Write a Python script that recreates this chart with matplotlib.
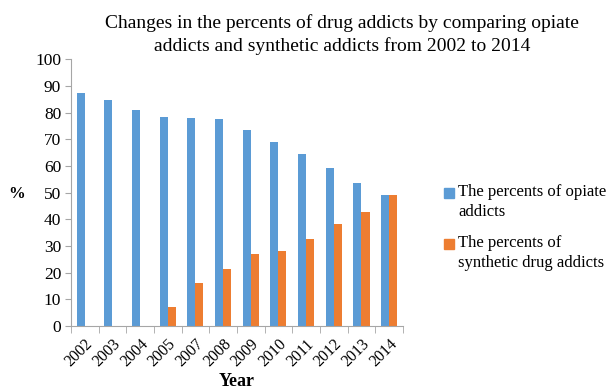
import matplotlib
matplotlib.use("Agg")
import matplotlib.pyplot as plt
import numpy as np
from matplotlib.patches import Patch, Rectangle
from matplotlib.legend_handler import HandlerPatch

years = ["2002", "2003", "2004", "2005", "2007", "2008", "2009", "2010", "2011", "2012", "2013", "2014"]
opiate = [87.5, 84.6, 81.0, 78.4, 78.0, 77.5, 73.3, 68.9, 64.4, 59.4, 53.8, 49.3]
synthetic = [0, 0, 0, 7.0, 16.0, 21.5, 27.1, 28.0, 32.7, 38.1, 42.6, 49.3]
labels = ["The percents of opiate\naddicts", "The percents of\nsynthetic drug addicts"]
title = "Changes in the percents of drug addicts by comparing opiate\naddicts and synthetic addicts from 2002 to 2014"

plt.rcParams['font.family'] = ['Liberation Serif', 'DejaVu Serif']
blue = "#5B9BD5"
orange = "#ED7D31"
gray = "#A6A6A6"

fig = plt.figure(figsize=(6.06, 3.92), dpi=100)
ax = fig.add_axes([0.117, 0.168, 0.548, 0.681])

x = np.arange(len(years))
w = 0.29
ax.bar(x - w / 2, opiate, width=w, color=blue)
ax.bar(x + w / 2, synthetic, width=w, color=orange)

ax.set_xlim(-0.5, len(years) - 0.5)
ax.set_ylim(0, 100)
ax.set_yticks(np.arange(0, 101, 10))
ax.tick_params(axis='y', labelsize=12.5, color=gray, length=4, direction='out', pad=3)
ax.set_xticks(x)
ax.set_xticklabels(years, rotation=45, ha='right', rotation_mode='anchor', fontsize=11.5)
ax.set_xticks(np.arange(-0.5, len(years), 1), minor=True)
ax.tick_params(axis='x', which='major', length=0, pad=7)
ax.tick_params(axis='x', which='minor', length=5, color=gray)

for s in ['top', 'right']:
    ax.spines[s].set_visible(False)
for s in ['left', 'bottom']:
    ax.spines[s].set_color(gray)
    ax.spines[s].set_linewidth(0.8)

ax.set_xlabel("Year", fontsize=13, fontweight='bold', labelpad=2)
fig.text(0.028, 0.505, "%", fontsize=12, fontweight='bold', ha='center', va='center')

fig.text(0.565, 0.965, title, fontsize=14, ha='center', va='top', linespacing=1.4)


def raised_patch(legend, orig_handle, xdescent, ydescent, width, height, fontsize):
    return Rectangle((-xdescent, -ydescent + 6.5), width, height)


handles = [Patch(color=blue), Patch(color=orange)]
leg = fig.legend(handles, labels, loc='center left', bbox_to_anchor=(0.708, 0.42), frameon=False,
                 fontsize=12, handlelength=0.6, handleheight=0.6, handletextpad=0.25,
                 labelspacing=0.9,
                 handler_map={Patch: HandlerPatch(patch_func=raised_patch)})
for t in leg.get_texts():
    t.set_linespacing(1.35)

fig.savefig("out.png", dpi=100)
